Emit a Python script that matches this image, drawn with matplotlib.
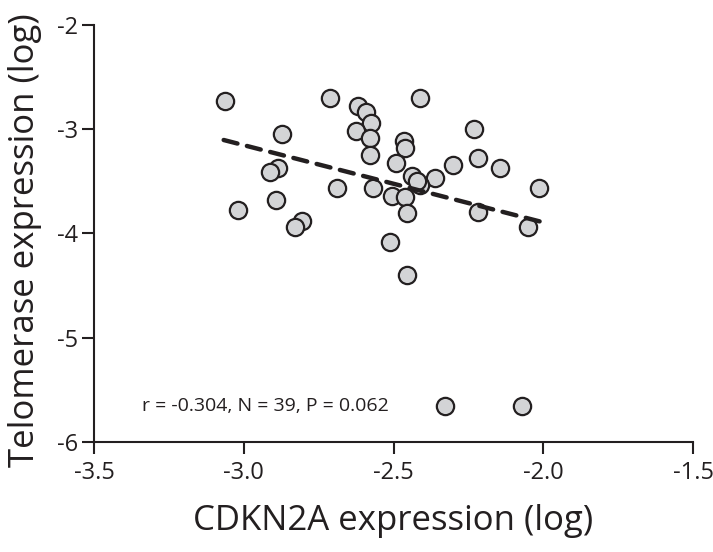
import matplotlib
matplotlib.use("Agg")
import matplotlib.pyplot as plt

# CDKN2A expression (log)
cdkn2a = [-3.063, -2.713, -2.619, -2.593, -2.574, -2.624, -2.578, -2.578, -2.871, -2.886,
          -2.911, -2.689, -2.569, -2.891, -3.019, -2.806, -2.828, -2.410, -2.230, -2.466,
          -2.460, -2.493, -2.302, -2.217, -2.144, -2.438, -2.360, -2.410, -2.506, -2.461,
          -2.013, -2.456, -2.219, -2.052, -2.513, -2.456, -2.327, -2.072, -2.423]
# Telomerase expression (log)
telomerase = [-2.729, -2.697, -2.774, -2.835, -2.943, -3.014, -3.081, -3.244, -3.048, -3.375,
              -3.413, -3.566, -3.561, -3.679, -3.775, -3.880, -3.935, -2.697, -3.000, -3.113,
              -3.183, -3.321, -3.343, -3.279, -3.369, -3.448, -3.471, -3.535, -3.637, -3.653,
              -3.566, -3.800, -3.791, -3.941, -4.084, -4.398, -5.650, -5.650, -3.496]

# Regression line endpoints
fit_x = [-3.067, -2.008]
fit_y = [-3.103, -3.887]

xticks = [-3.5, -3.0, -2.5, -2.0, -1.5]
xticklabels = ["-3.5", "-3.0", "-2.5", "-2.0", "-1.5"]
yticks = [-6, -5, -4, -3, -2]
yticklabels = ["-6", "-5", "-4", "-3", "-2"]

plt.rcParams['font.family'] = ['Open Sans', 'DejaVu Sans']

fig = plt.figure(figsize=(7.13, 5.52), dpi=100)
ax = fig.add_axes([0.1318, 0.1993, 0.972 - 0.1318, 0.9547 - 0.1993])

ax.scatter(cdkn2a, telomerase, s=155, facecolor='#d3d4d6', edgecolor='#231f20',
           linewidth=1.6, zorder=3)
ax.plot(fit_x, fit_y, color='#231f20', linewidth=3.2, dashes=(3.2, 2.2), zorder=4,
        solid_capstyle='round', dash_capstyle='round')

ax.set_xlim(-3.5, -1.5)
ax.set_ylim(-6, -2)
ax.set_xticks(xticks)
ax.set_xticklabels(xticklabels)
ax.set_yticks(yticks)
ax.set_yticklabels(yticklabels)

for s in ['top', 'right']:
    ax.spines[s].set_visible(False)
for s in ['left', 'bottom']:
    ax.spines[s].set_linewidth(1.5)
    ax.spines[s].set_color('#231f20')

ax.tick_params(axis='both', direction='out', length=8.5, width=1.5, color='#231f20',
               labelsize=17, labelcolor='#231f20')
ax.tick_params(axis='x', pad=5)
ax.tick_params(axis='y', pad=3)

ax.set_xlabel("CDKN2A expression (log)", fontsize=25, color='#231f20')
ax.set_ylabel("Telomerase expression (log)", fontsize=25, color='#231f20')
ax.xaxis.set_label_coords(0.5, -0.148)
ax.yaxis.set_label_coords(-0.087, 0.484)

ax.text(-3.34, -5.65, "r = -0.304, N = 39, P = 0.062", fontsize=14, color='#231f20',
        va='center', ha='left')

fig.savefig("out.png", dpi=100)
